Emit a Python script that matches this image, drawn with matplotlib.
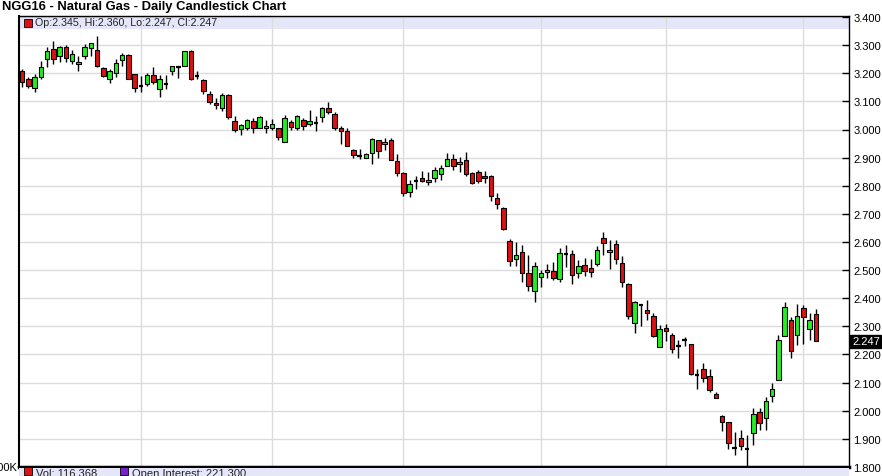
import matplotlib
matplotlib.use("Agg")
import matplotlib.pyplot as plt
from matplotlib.patches import Rectangle
import numpy as np

title = "NGG16 - Natural Gas - Daily Candlestick Chart"
legend_text = "Op:2.345, Hi:2.360, Lo:2.247, Cl:2.247"
vol_text = "Vol: 116,368"
oi_text = "Open Interest: 221,300"
last_label = "2.247"

opens = [3.207,3.178,3.147,3.188,3.251,3.286,3.261,3.295,3.245,3.233,3.262,3.289,3.282,3.218,3.178,3.200,3.247,3.265,3.198,3.157,
         3.162,3.194,3.145,3.163,3.207,3.221,3.227,3.278,3.190,3.177,3.126,3.094,3.078,3.121,3.031,3.001,3.006,3.031,3.007,3.007,
         3.007,3.007,2.956,3.027,3.004,3.035,3.018,3.025,3.045,3.078,3.056,3.007,2.995,2.927,2.907,2.900,2.918,2.961,2.949,2.963,
         2.888,2.844,2.779,2.818,2.829,2.815,2.829,2.841,2.872,2.895,2.876,2.892,2.844,2.850,2.836,2.836,2.758,2.720,2.605,2.539,
         2.566,2.489,2.424,2.477,2.492,2.497,2.469,2.559,2.559,2.490,2.517,2.508,2.521,2.614,2.564,2.592,2.525,2.452,2.312,2.376,
         2.360,2.336,2.227,2.295,2.269,2.230,2.252,2.237,2.127,2.147,2.124,2.061,1.980,1.960,1.869,1.903,1.866,1.921,1.995,1.975,
         2.054,2.111,2.265,2.321,2.271,2.364,2.289,2.345]
highs = [3.215,3.188,3.198,3.242,3.294,3.315,3.298,3.300,3.282,3.262,3.304,3.309,3.333,3.221,3.215,3.251,3.272,3.268,3.198,3.190,
         3.200,3.221,3.192,3.192,3.225,3.224,3.280,3.282,3.209,3.180,3.138,3.113,3.130,3.127,3.047,3.021,3.039,3.042,3.047,3.033,
         3.039,3.007,3.051,3.033,3.051,3.042,3.071,3.047,3.080,3.098,3.062,3.012,3.004,2.929,2.932,2.916,2.969,2.961,2.969,2.969,
         2.912,2.850,2.821,2.836,2.854,2.850,2.868,2.874,2.918,2.912,2.904,2.921,2.850,2.856,2.853,2.838,2.773,2.726,2.611,2.599,
         2.590,2.552,2.528,2.500,2.521,2.530,2.578,2.588,2.573,2.537,2.544,2.541,2.585,2.636,2.606,2.606,2.550,2.454,2.391,2.381,
         2.395,2.346,2.304,2.310,2.275,2.251,2.263,2.239,2.150,2.170,2.150,2.067,1.986,1.960,1.924,1.930,1.912,2.011,2.011,2.049,
         2.099,2.271,2.386,2.333,2.380,2.376,2.348,2.360]
lows = [3.151,3.147,3.133,3.180,3.221,3.233,3.239,3.239,3.233,3.207,3.251,3.262,3.221,3.186,3.165,3.188,3.227,3.180,3.135,3.133,
        3.153,3.162,3.115,3.145,3.195,3.182,3.225,3.176,3.178,3.126,3.091,3.074,3.066,3.039,2.992,2.980,2.998,2.988,3.007,2.986,
        2.998,2.962,2.956,3.000,3.000,2.998,3.013,2.995,3.027,3.056,3.000,2.948,2.942,2.898,2.896,2.900,2.879,2.897,2.927,2.892,
        2.836,2.765,2.759,2.789,2.815,2.803,2.812,2.821,2.872,2.856,2.850,2.836,2.805,2.809,2.809,2.744,2.718,2.643,2.515,2.513,
        2.459,2.426,2.386,2.441,2.471,2.465,2.457,2.511,2.452,2.473,2.478,2.476,2.514,2.553,2.505,2.521,2.440,2.325,2.275,2.300,
        2.322,2.263,2.227,2.249,2.204,2.186,2.229,2.127,2.076,2.103,2.067,2.044,1.927,1.865,1.841,1.859,1.800,1.879,1.930,1.930,
        2.031,2.108,2.265,2.187,2.234,2.238,2.253,2.247]
closes = [3.168,3.156,3.188,3.221,3.280,3.251,3.292,3.254,3.268,3.239,3.294,3.306,3.227,3.189,3.207,3.235,3.265,3.180,3.147,3.155,
          3.195,3.168,3.180,3.162,3.225,3.221,3.278,3.180,3.189,3.138,3.099,3.086,3.121,3.045,3.000,3.015,3.035,3.006,3.045,3.014,
          3.018,2.974,3.042,3.009,3.047,3.013,3.031,3.024,3.076,3.062,3.004,2.995,2.942,2.910,2.906,2.914,2.965,2.924,2.957,2.892,
          2.844,2.776,2.806,2.819,2.818,2.822,2.856,2.864,2.895,2.872,2.883,2.841,2.811,2.818,2.827,2.765,2.734,2.646,2.531,2.554,
          2.489,2.445,2.516,2.489,2.500,2.471,2.560,2.558,2.482,2.515,2.496,2.494,2.570,2.596,2.573,2.541,2.458,2.337,2.387,2.375,
          2.348,2.265,2.291,2.284,2.221,2.229,2.251,2.130,2.126,2.117,2.073,2.047,1.960,1.885,1.868,1.875,1.865,1.987,1.956,2.034,
          2.078,2.253,2.368,2.212,2.336,2.333,2.324,2.247]
month_start_idx = [19, 40, 61, 83, 103, 125]
y_ticks = [1.8, 1.9, 2.0, 2.1, 2.2, 2.3, 2.4, 2.5, 2.6, 2.7, 2.8, 2.9, 3.0, 3.1, 3.2, 3.3, 3.4]

W, H = 882, 477
fig = plt.figure(figsize=(W / 100, H / 100), dpi=100)
plt.rcParams['font.family'] = ['Liberation Sans', 'DejaVu Sans']

def fx(px):
    return px / W

def fy(py):
    return 1 - py / H

ax_l, ax_r, ax_t, ax_b = 19, 849, 17, 468
ax = fig.add_axes([fx(ax_l), fy(ax_b), fx(ax_r - ax_l), (ax_b - ax_t) / H])

n = len(opens)
x = np.arange(n)
ax.set_xlim(-0.5, -0.5 + (ax_r - ax_l) / 6.25)
ylo, yhi = 1.8, 3.4 + 1.0 / 281.25
ax.set_ylim(ylo, yhi)

grid_c = "#dcdcdc"
for yt in y_ticks:
    ax.axhline(yt, color=grid_c, lw=1, zorder=1)
for mi in month_start_idx:
    ax.axvline(mi, color=grid_c, lw=1, zorder=1)

# legend band
band_h = 13 / (ax_b - ax_t)
ax.add_patch(Rectangle((0, 1 - band_h), 1, band_h, transform=ax.transAxes,
                       facecolor="#e6e6fa", edgecolor="none", zorder=0.5))

green = "#22ee22"
red = "#dd1111"
bw = 0.72
for i in range(n):
    o, h, l, c = opens[i], highs[i], lows[i], closes[i]
    ax.vlines(x[i], l, h, color="black", lw=1, zorder=2)
    if abs(c - o) < 0.004:
        ax.hlines((o + c) / 2, x[i] - bw / 2, x[i] + bw / 2, color="black", lw=1.6, zorder=3)
    else:
        col = green if c > o else red
        ax.bar(x[i], abs(c - o), bottom=min(o, c), width=bw, color=col,
               edgecolor="black", linewidth=0.8, zorder=3)

for s in ["top", "right", "left"]:
    ax.spines[s].set_linewidth(1)
    ax.spines[s].set_color("black")
ax.spines["left"].set_linewidth(1.5)
ax.spines["bottom"].set_linewidth(2.5)

ax.yaxis.tick_right()
ax.set_yticks(y_ticks)
ax.set_yticklabels([f"{v:.3f}" for v in y_ticks])
ax.tick_params(axis="y", direction="in", length=5, width=1, pad=3, labelsize=8, colors="black")
ax.set_xticks([])

# last price marker
ax.text(1.0 + 3 / (ax_r - ax_l), closes[-1], last_label, transform=ax.get_yaxis_transform(),
        ha="left", va="center", fontsize=8, color="white",
        bbox=dict(boxstyle="square,pad=0.15", facecolor="black", edgecolor="black"), zorder=5)

# legend in band
ax.add_patch(Rectangle((fx(24), fy(28)), fx(8), 8 / H, transform=fig.transFigure,
                       facecolor=red, edgecolor="black", lw=0.6, zorder=6))
fig.text(fx(35), fy(23.5), legend_text, fontsize=7.7, va="center", ha="left", color="#222222")

# title
fig.text(fx(2), fy(7), title, fontsize=9.4, fontweight="bold", va="center", ha="left")

# bottom volume band
bax = fig.add_axes([fx(ax_l), 0, fx(ax_r - ax_l), (H - ax_b - 1) / H])
bax.set_facecolor("#e6e6fa")
bax.set_xticks([]); bax.set_yticks([])
for s in bax.spines.values():
    s.set_visible(False)
fig.patches.append(Rectangle((fx(24), fy(477 - 1)), fx(8), 8 / H, transform=fig.transFigure,
                             facecolor=red, edgecolor="black", lw=0.6))
fig.text(fx(36), fy(474), vol_text, fontsize=8, va="center", ha="left", color="#222222")
fig.patches.append(Rectangle((fx(120), fy(477 - 1)), fx(8), 8 / H, transform=fig.transFigure,
                             facecolor="#7722cc", edgecolor="black", lw=0.6))
fig.text(fx(132), fy(474), oi_text, fontsize=8, va="center", ha="left", color="#222222")
fig.text(fx(17), fy(468), "100K", fontsize=8, va="center", ha="right", color="black")

fig.savefig("out.png", dpi=100)
